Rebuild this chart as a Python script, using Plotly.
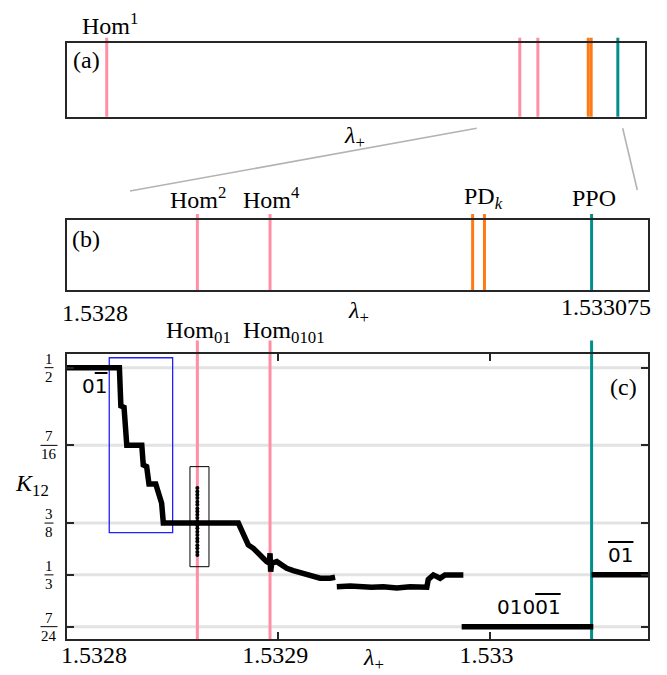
import plotly.graph_objects as go

W, H = 667, 675
SERIF = "Liberation Serif"
SANS = "DejaVu Sans"

# ---------------- data ----------------
lam_range_a = [1.532, 1.5331]
lam_range_bc = [1.5328, 1.533075]

hom_lams_a = [1.5320756, 1.5328617, 1.5328961]   # Hom^1, Hom^2, Hom^4 in panel (a)
hom_lams = [1.5328617, 1.5328961]                # Hom^2 / Hom_01, Hom^4 / Hom_0101
pd_lams = [1.532992, 1.5329976]                  # PD_k
ppo_lam = 1.5330483                              # PPO

label_hom1 = "Hom<sup>1</sup>"
labels_hom_b = ["Hom<sup>2</sup>", "Hom<sup>4</sup>"]
label_pd = "PD<sub><i>k</i></sub>"
label_ppo = "PPO"
labels_hom_c = ["Hom<sub>01</sub>", "Hom<sub>0101</sub>"]

x_tick_vals_b = [1.5328, 1.533075]
x_tick_text_b = ["1.5328", "1.533075"]
x_tick_vals_c = [1.5328, 1.5329, 1.533]
x_tick_text_c = ["1.5328", "1.5329", "1.533"]
k_tick_vals = [7 / 24, 1 / 3, 3 / 8, 7 / 16, 1 / 2]
k_tick_num = ["7", "1", "3", "7", "1"]
k_tick_den = ["24", "3", "8", "16", "2"]
k_range = [0.2815, 0.5110]

# kneading invariant K12 along lambda_+
main_lam = [1.5328, 1.5328248, 1.5328255, 1.5328270, 1.5328283, 1.5328354, 1.5328361,
            1.5328377, 1.5328388, 1.5328420, 1.5328448, 1.5328456, 1.5328811, 1.5328822,
            1.5328827, 1.5328843, 1.5328858, 1.5328882, 1.5328906, 1.5328929, 1.5328945,
            1.5328958, 1.5328961, 1.5328964, 1.5328969, 1.5328993, 1.5329016, 1.5329040,
            1.5329071, 1.5329103, 1.5329135, 1.5329166, 1.5329198, 1.5329245, 1.5329269]
main_k = [0.5, 0.5, 0.4692, 0.4681, 0.4375, 0.4375, 0.4217,
          0.4204, 0.4065, 0.4065, 0.3909, 0.3750, 0.3750, 0.3708,
          0.3668, 0.3614, 0.3574, 0.3547, 0.3512, 0.3467, 0.3440,
          0.3427, 0.3507, 0.3359, 0.3427, 0.3440, 0.3413, 0.3386,
          0.3367, 0.3351, 0.3335, 0.3319, 0.3306, 0.3306, 0.3314]
plateau_lam = [1.5329277, 1.5329340, 1.5329442, 1.5329497, 1.5329561, 1.5329624,
               1.5329703, 1.5329710, 1.5329734, 1.5329766, 1.5329789, 1.5329876]
plateau_k = [0.3238, 0.3244, 0.3234, 0.3238, 0.3228, 0.3238,
             0.3234, 0.3297, 0.3333, 0.3306, 0.3333, 0.3333]
low_lam = [1.5329868, 1.5330491]
low_k = [7 / 24, 7 / 24]
per_lam = [1.5330483, 1.533075]
per_k = [1 / 3, 1 / 3]
dots_lam = [1.5328617] * 21
dots_k = [0.4032, 0.4003, 0.3978, 0.3952, 0.3921, 0.3897, 0.3868, 0.3843, 0.3817, 0.3790,
          0.3762, 0.3733, 0.3708, 0.3680, 0.3655, 0.3626, 0.3601, 0.3572, 0.3547, 0.3518, 0.3493]

blue_box_lam = [1.53282, 1.53285]
blue_box_k = [0.3673, 0.5080]
black_box_lam = [1.5328582, 1.5328672]
black_box_k = [0.3399, 0.4204]

orbit_labels = ["0<span style='text-decoration:overline'>1</span>",
                "<span style='text-decoration:overline'>01</span>",
                "010<span style='text-decoration:overline'>01</span>"]
orbit_lam = [1.5328128, 1.5330622, 1.5330187]
orbit_k = [0.4850, 0.3493, 0.3075]

# ---------------- style ----------------
PINK = "#ff8fa5"
ORANGE = "#ff7a14"
TEAL = "#00908c"
AXC = "#262626"
GRID = "#e3e3e3"
NB = "\u00a0"


def px(x):
    return x / W


def py(y):
    return 1 - y / H


fig = go.Figure()
# invisible anchors for the box panels and the overlay axes
for xa, ya, xr in [("x", "y", lam_range_a), ("x2", "y2", lam_range_bc),
                   ("x4", "y2", lam_range_bc), ("x5", "y3", lam_range_bc)]:
    fig.add_trace(go.Scatter(x=[xr[0]], y=[-1], xaxis=xa, yaxis=ya, mode="markers",
                             marker=dict(opacity=0), showlegend=False, hoverinfo="skip"))

for lam, k in [(main_lam, main_k), (plateau_lam, plateau_k), (low_lam, low_k), (per_lam, per_k)]:
    fig.add_trace(go.Scatter(x=lam, y=k, mode="lines", xaxis="x3", yaxis="y3",
                             line=dict(color="black", width=5.5), showlegend=False,
                             hoverinfo="skip"))
fig.add_trace(go.Scatter(x=dots_lam, y=dots_k, mode="markers", xaxis="x3", yaxis="y3",
                         marker=dict(color="black", size=4), showlegend=False, hoverinfo="skip"))

box_axis = dict(showline=True, mirror=True, linecolor=AXC, linewidth=2, showgrid=False,
                zeroline=False, automargin=False)
overlay_axis = dict(range=lam_range_bc, side="bottom", ticks="", showline=False,
                    showgrid=False, zeroline=False, automargin=False,
                    ticklabeloverflow="allow")
dom_x_a = [px(67), px(648 - 3)]
dom_x = [px(67), px(648)]
tick_font = dict(size=24, family=SERIF, color="black")

fig.update_layout(
    width=W, height=H, autosize=False,
    margin=dict(l=0, r=0, t=0, b=0),
    paper_bgcolor="white", plot_bgcolor="white",
    font=dict(family=SERIF, size=24, color="black"),
    showlegend=False,
    xaxis=dict(domain=dom_x_a, range=lam_range_a, anchor="y", showticklabels=False, ticks="",
               **box_axis),
    yaxis=dict(domain=[py(116.7), py(43.3)], range=[0, 1], anchor="x", showticklabels=False,
               ticks="", **box_axis),
    # panel (b): left end label starts at its tick, right end label ends at its tick
    xaxis2=dict(domain=dom_x, range=lam_range_bc, anchor="y2", ticks="",
                tickvals=x_tick_vals_b[:1], ticktext=x_tick_text_b[:1],
                ticklabelposition="outside right", ticklabelshift=-6, ticklabelstandoff=0,
                ticklabeloverflow="allow", tickfont=tick_font, **box_axis),
    xaxis4=dict(overlaying="x2", anchor="y2", tickvals=x_tick_vals_b[1:],
                ticktext=x_tick_text_b[1:], ticklabelposition="outside left",
                ticklabelstandoff=0, ticklabelshift=3, tickfont=tick_font, **overlay_axis),
    yaxis2=dict(domain=[py(290), py(220)], range=[0, 1], anchor="x2", showticklabels=False,
                ticks="", **box_axis),
    # panel (c)
    xaxis3=dict(domain=dom_x, range=lam_range_bc, anchor="y3", showline=True, mirror="ticks",
                linecolor=AXC, linewidth=2, ticks="inside", ticklen=7, tickwidth=1.5,
                tickcolor=AXC, showgrid=False, zeroline=False, ticklabeloverflow="allow",
                automargin=False, tickvals=x_tick_vals_c, ticklabelstandoff=-7,
                ticktext=["", x_tick_text_c[1] + NB, x_tick_text_c[2] + NB],
                tickfont=tick_font),
    xaxis5=dict(overlaying="x3", anchor="y3", tickvals=x_tick_vals_c[:1],
                ticktext=x_tick_text_c[:1], ticklabelposition="outside right",
                ticklabelshift=-6, ticklabelstandoff=-1, tickfont=tick_font, **overlay_axis),
    yaxis3=dict(domain=[py(639.3), py(354)], range=k_range, anchor="x3", showline=True,
                mirror="ticks", linecolor=AXC, linewidth=2, ticks="inside", ticklen=7,
                tickwidth=1.5, tickcolor=AXC, tickvals=k_tick_vals, showticklabels=False,
                showgrid=False, zeroline=False, automargin=False),
)

shapes = []

# horizontal grid of (c), drawn beneath the marker lines
for v in k_tick_vals:
    shapes.append(dict(type="line", xref="x3 domain", yref="y3", x0=0, x1=1, y0=v, y1=v,
                       line=dict(color=GRID, width=3), layer="below"))


def vline(x, xref, yref, color, top):
    shapes.append(dict(type="line", xref=xref, yref=yref, x0=x, x1=x, y0=0, y1=top,
                       line=dict(color=color, width=3), layer="below"))


# panel (a)
for v in hom_lams_a:
    vline(v, "x", "y domain", PINK, 1.076)
for v in pd_lams:
    vline(v, "x", "y domain", ORANGE, 1.076)
vline(ppo_lam, "x", "y domain", TEAL, 1.076)
# panel (b)
for v in hom_lams:
    vline(v, "x2", "y2 domain", PINK, 1.086)
for v in pd_lams:
    vline(v, "x2", "y2 domain", ORANGE, 1.086)
vline(ppo_lam, "x2", "y2 domain", TEAL, 1.086)
# panel (c)
for v in hom_lams:
    vline(v, "x3", "y3 domain", PINK, 1.047)
vline(ppo_lam, "x3", "y3 domain", TEAL, 1.047)

# boxes in (c)
shapes.append(dict(type="rect", xref="x3", yref="y3", x0=blue_box_lam[0], x1=blue_box_lam[1],
                   y0=blue_box_k[0], y1=blue_box_k[1], line=dict(color="#2020ff", width=1.3),
                   layer="below"))
shapes.append(dict(type="rect", xref="x3", yref="y3", x0=black_box_lam[0], x1=black_box_lam[1],
                   y0=black_box_k[0], y1=black_box_k[1], line=dict(color="black", width=1),
                   layer="below"))

# zoom connectors between (a) and (b)
shapes.append(dict(type="line", xref="paper", yref="paper", x0=px(476.7), y0=py(128.3),
                   x1=px(130), y1=py(191), line=dict(color="#b3b3b3", width=1.6)))
shapes.append(dict(type="line", xref="paper", yref="paper", x0=px(622.7), y0=py(128.3),
                   x1=px(637.3), y1=py(190), line=dict(color="#b3b3b3", width=1.6)))

annotations = []


def ann(text, x, y, xref="paper", yref="paper", size=24, family=SERIF, **kw):
    annotations.append(dict(text=text, x=x, y=y, xref=xref, yref=yref, showarrow=False,
                            font=dict(size=size, family=family, color="black"),
                            xanchor=kw.pop("xanchor", "center"),
                            yanchor=kw.pop("yanchor", "middle"), **kw))


# y tick fractions for (c)
for v, n, d in zip(k_tick_vals, k_tick_num, k_tick_den):
    ann(n, px(49), v, yref="y3", size=15, yanchor="bottom", borderpad=0)
    ann(d, px(49), v, yref="y3", size=15, yanchor="top", borderpad=0)
    w = 8 * len(d) + 1
    shapes.append(dict(type="line", xref="paper", yref="y3", x0=px(49 - w / 2),
                       x1=px(49 + w / 2), y0=v, y1=v, line=dict(color="black", width=1)))

# panel letters
ann("(a)", px(86), py(60))
ann("(b)", px(86), py(239))
ann("(c)", px(623), py(387))

# bifurcation labels
ann(label_hom1, hom_lams_a[0], py(24), xref="x", xshift=3)
for v, t in zip(hom_lams, labels_hom_b):
    ann(t, v, py(198), xref="x2", xshift=1)
ann(label_pd, sum(pd_lams) / 2, py(198), xref="x2", xshift=5)
ann(label_ppo, ppo_lam, py(198), xref="x2", xshift=2)
ann(labels_hom_c[0], hom_lams[0], py(332), xref="x3", xshift=1)
ann(labels_hom_c[1], hom_lams[1], py(332), xref="x3", xshift=14)

# axis titles
lam_t = "<i>λ</i><sub>+</sub>"
ann(lam_t, px(354), py(137))
ann(lam_t, px(358), py(312))
ann(lam_t, px(373), py(659))
ann("<i>K</i><sub>12</sub>", px(32), py(485))

# symbolic orbit labels
for t, l, k in zip(orbit_labels, orbit_lam, orbit_k):
    ann(t, l, k, xref="x3", yref="y3", size=20, family=SANS)

fig.update_layout(shapes=shapes, annotations=annotations)
fig.write_html("out.html")
